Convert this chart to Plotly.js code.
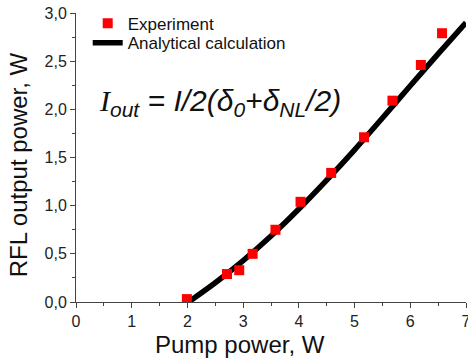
<!DOCTYPE html>
<html><head><meta charset="utf-8">
<script src="https://cdn.plot.ly/plotly-3.0.1.min.js"></script>
<style>body{margin:0;background:#fff}#c{width:468px;height:360px}</style>
</head><body><div id="c"></div>
<script>
var expPump = [1.99, 2.71, 2.93, 3.17, 3.58, 4.03, 4.58, 5.17, 5.68, 6.19, 6.57];
var expOut  = [0.03, 0.29, 0.33, 0.50, 0.75, 1.04, 1.34, 1.71, 2.09, 2.46, 2.79];
var calcPump = [2.02, 2.5, 3.0, 3.5, 4.0, 4.5, 5.0, 5.5, 6.0, 6.5, 7.0];
var calcOut  = [0.00, 0.20, 0.43, 0.685, 0.965, 1.265, 1.58, 1.91, 2.245, 2.575, 2.90];
var yTicks = [0, 0.5, 1.0, 1.5, 2.0, 2.5, 3.0];
var xTicks = [0, 1, 2, 3, 4, 5, 6, 7];
var F = 'Liberation Sans, Arial, sans-serif';

var traces = [
  {x: calcPump, y: calcOut, mode: 'lines', name: 'Analytical calculation', legend: 'legend2',
   line: {color: '#000', width: 5.5, shape: 'spline', smoothing: 0.8}, showlegend: true},
  {x: expPump, y: expOut, mode: 'markers', name: 'Experiment', legend: 'legend', showlegend: true,
   marker: {symbol: 'square', color: '#f00', size: 10}}
];
var axisCommon = {showline: true, linecolor: '#444', linewidth: 1, ticks: 'outside',
  ticklen: 5, tickcolor: '#444', showgrid: false, zeroline: false, ticklabeloverflow: 'allow',
  tickfont: {family: F, size: 16, color: '#222'}};
var legFont = {family: F, size: 17, color: '#111'};
var layout = {
  width: 468, height: 360, paper_bgcolor: '#fff', plot_bgcolor: '#fff',
  margin: {l: 76, r: 2, t: 13, b: 58},
  separators: ',.',
  showlegend: true,
  xaxis: Object.assign({}, axisCommon, {range: [0, 7], tickvals: xTicks,
    minor: {dtick: 0.5, ticks: 'outside', ticklen: 3, tickcolor: '#444'}}),
  yaxis: Object.assign({}, axisCommon, {range: [0, 3], tickvals: yTicks, tickformat: '.1f',
    minor: {dtick: 0.25, ticks: 'outside', ticklen: 3, tickcolor: '#444'}}),
  legend: {x: 0.03, y: 1.025, xanchor: 'left', yanchor: 'top', visible: true,
    bgcolor: 'rgba(0,0,0,0)', font: legFont},
  legend2: {x: 0.03, y: 0.958, xanchor: 'left', yanchor: 'top', visible: true,
    bgcolor: 'rgba(0,0,0,0)', font: legFont},
  annotations: [
    {xref: 'paper', yref: 'paper', x: 0.42, y: -0.2, xanchor: 'center', yanchor: 'bottom',
     showarrow: false, text: 'Pump power, W', font: {family: F, size: 24, color: '#111'}},
    {xref: 'paper', yref: 'paper', x: -0.148, y: 0.474, xanchor: 'center', yanchor: 'middle',
     textangle: -90, showarrow: false, text: 'RFL output power, W', font: {family: F, size: 24, color: '#111'}},
    {xref: 'paper', yref: 'paper', x: 0.055, y: 0.69, xanchor: 'left', yanchor: 'middle',
     showarrow: false,
     text: '<span style="font-family:Liberation Serif,serif"><i>I</i></span><i><sub>out</sub> = I/2(δ<sub>0</sub>+δ<sub>NL</sub>/2)</i>',
     font: {family: F, size: 30, color: '#111'}}
  ]
};
Plotly.newPlot('c', traces, layout, {staticPlot: true});
</script></body></html>
